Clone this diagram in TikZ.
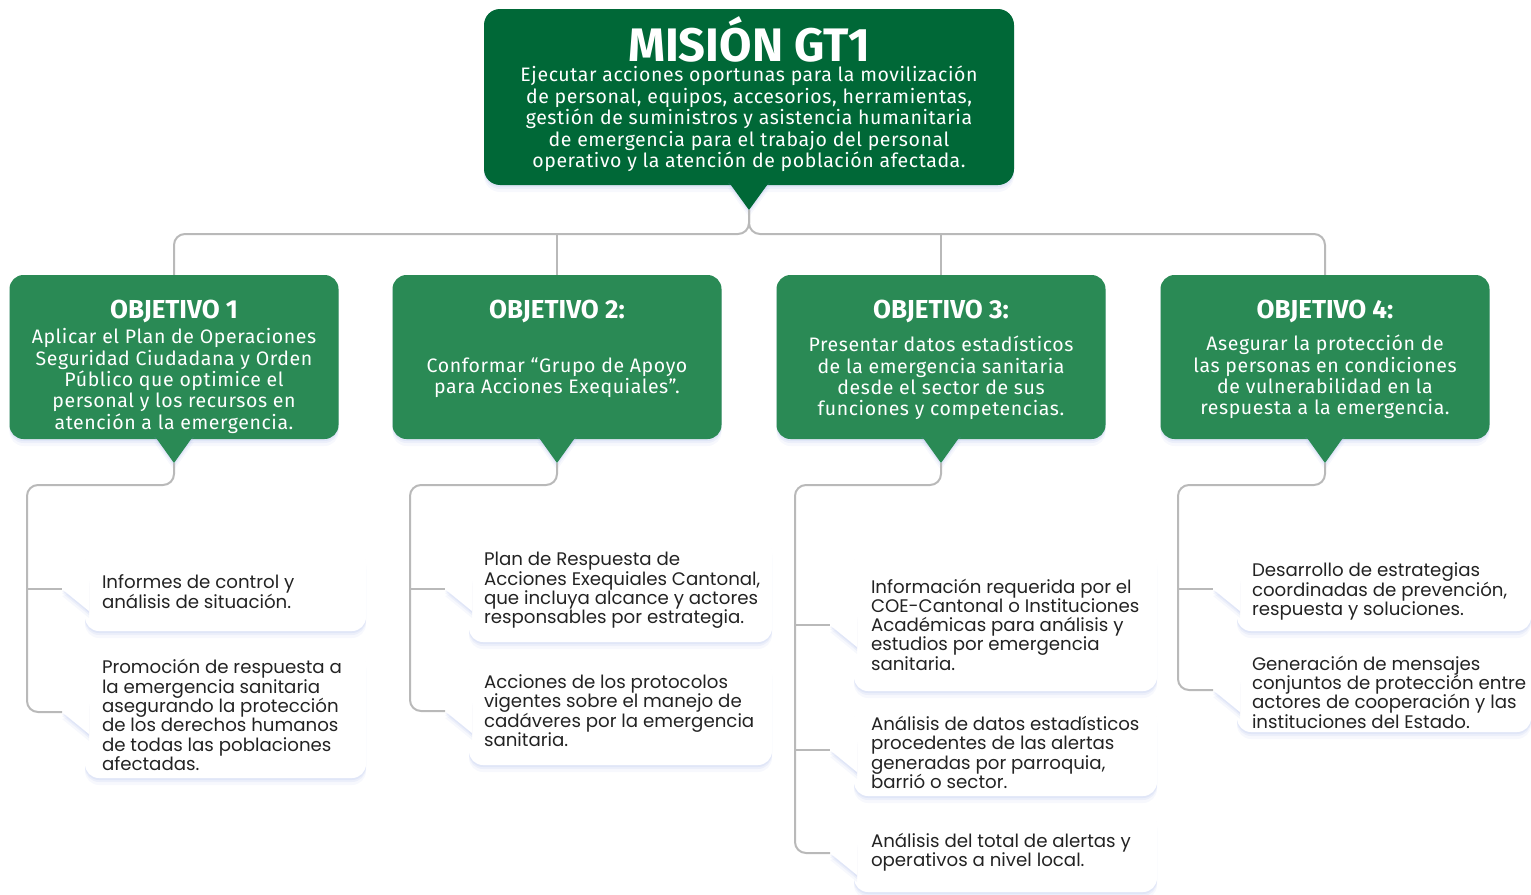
\documentclass[tikz,border=0pt]{standalone}
\usepackage{fontspec}
\setmainfont{Fira Sans}
\newfontfamily\objfont[LetterSpace=3]{Fira Sans}
\newfontfamily\cardfont{Poppins}
\usetikzlibrary{shadows}
\definecolor{misiongreen}{RGB}{0,104,55}
\definecolor{objgreen}{RGB}{42,138,85}
\definecolor{linkgray}{RGB}{185,185,185}
\definecolor{shadeblue}{RGB}{140,160,225}
\definecolor{cardink}{RGB}{35,35,35}
\begin{document}
\begin{tikzpicture}[x=1pt,y=-1pt,
	softshadow/.style={drop shadow={shadow xshift=0pt,shadow yshift=-2pt,fill=shadeblue,opacity=0.12},
		drop shadow={shadow xshift=0pt,shadow yshift=-4pt,fill=shadeblue,opacity=0.10},
		drop shadow={shadow xshift=0pt,shadow yshift=-7pt,fill=shadeblue,opacity=0.07}},
	mision/.style={fill=misiongreen,rounded corners=16pt,minimum width=530pt,minimum height=176pt,softshadow},
	objbox/.style={fill=objgreen,rounded corners=14pt,minimum width=329pt,minimum height=164pt,softshadow},
	objtitle/.style={anchor=base,text=white,inner sep=0pt,font=\bfseries\fontsize{26}{28}\selectfont},
	objtext/.style={text=white,align=center,inner sep=0pt,font=\objfont\fontsize{19.5}{21.4}\selectfont},
	card/.style 2 args={fill=white,rounded corners=14pt,minimum width=#1pt,minimum height=#2pt,softshadow},
	cardtext/.style={anchor=west,text=cardink,align=left,inner sep=0pt,font=\cardfont\fontsize{18.2}{19.3}\selectfont},
	link/.style={draw=linkgray,line width=2pt,rounded corners=11pt}]
	\useasboundingbox (0,0) rectangle (1531,894);

	\coordinate (mtip) at (749,210);
	\coordinate (bus) at (749,234);
	\coordinate (o1tip) at (174,463);
	\coordinate (o2tip) at (557,463);
	\coordinate (o3tip) at (941,463);
	\coordinate (o4tip) at (1325,463);
	\coordinate (abus) at (27,485);
	\coordinate (bbus) at (410,485);
	\coordinate (cbus) at (795,485);
	\coordinate (dbus) at (1178,485);
	\coordinate (a1tip) at (62,589);
	\coordinate (a2tip) at (62,712);
	\coordinate (b1tip) at (445,589);
	\coordinate (b2tip) at (445,711);
	\coordinate (c1tip) at (830,625);
	\coordinate (c2tip) at (830,750);
	\coordinate (c3tip) at (830,853);
	\coordinate (d1tip) at (1213,589);
	\coordinate (d2tip) at (1213,690);

	\node[mision] (m) at (749,97) {};
	\node[anchor=base,text=white,inner sep=0pt,font=\bfseries\fontsize{47}{49}\selectfont] (mt) at (749,61) {MISIÓN GT1};
	\node[objtext] (mb) at (749,119) {Ejecutar acciones oportunas para la movilización\\de personal, equipos, accesorios, herramientas,\\gestión de suministros y asistencia humanitaria\\de emergencia para el trabajo del personal\\operativo y la atención de población afectada.};

	\node[objbox] (o1) at (174,357) {};
	\node[objbox] (o2) at (557,357) {};
	\node[objbox] (o3) at (941,357) {};
	\node[objbox] (o4) at (1325,357) {};
	\node[objtitle] (o1t) at (174,318) {OBJETIVO 1};
	\node[objtitle] (o2t) at (557,318) {OBJETIVO 2:};
	\node[objtitle] (o3t) at (941,318) {OBJETIVO 3:};
	\node[objtitle] (o4t) at (1325,318) {OBJETIVO 4:};
	\node[objtext] (o1b) at (174,381) {Aplicar el Plan de Operaciones\\Seguridad Ciudadana y Orden\\Público que optimice el\\personal y los recursos en\\atención a la emergencia.};
	\node[objtext] (o2b) at (557,378) {Conformar “Grupo de Apoyo\\para Acciones Exequiales”.};
	\node[objtext] (o3b) at (941,378) {Presentar datos estadísticos\\de la emergencia sanitaria\\desde el sector de sus\\funciones y competencias.};
	\node[objtext] (o4b) at (1325,377) {Asegurar la protección de\\las personas en condiciones\\de vulnerabilidad en la\\respuesta a la emergencia.};

	\fill[misiongreen,softshadow] (mtip) -- ++(-21,-29) -- ++(42,0) -- cycle;
	\foreach \t in {o1tip,o2tip,o3tip,o4tip}
		\fill[objgreen,softshadow] (\t) -- ++(-20,-28) -- ++(40,0) -- cycle;

	\node[card={281}{83}] (a1) at (225.5,589.5) {};
	\node[card={281}{128}] (a2) at (225.5,714) {};
	\node[card={303}{105}] (b1) at (620.5,589.5) {};
	\node[card={303}{107}] (b2) at (620.5,711.5) {};
	\node[card={303}{143}] (c1) at (1005.5,619.5) {};
	\node[card={303}{91}] (c2) at (1005.5,750.5) {};
	\node[card={303}{82}] (c3) at (1005.5,851) {};
	\node[card={294}{83}] (d1) at (1384,589.5) {};
	\node[card={294}{82}] (d2) at (1384,691) {};

	\foreach \t in {a1tip,a2tip,b1tip,b2tip,c1tip,c2tip,c3tip,d1tip,d2tip}
		\fill[white,softshadow] (\t) -- ++(27,-10) -- ++(0,32) -- cycle;

	\node[cardtext] (a1t) at ([xshift=17pt,yshift=-2pt]a1.west) {Informes de control y\\análisis de situación.};
	\node[cardtext] (a2t) at ([xshift=17pt,yshift=-1pt]a2.west) {Promoción de respuesta a\\la emergencia sanitaria\\asegurando la protección\\de los derechos humanos\\de todas las poblaciones\\afectadas.};
	\node[cardtext] (b1t) at ([xshift=15pt,yshift=-1pt]b1.west) {Plan de Respuesta de\\Acciones Exequiales Cantonal,\\que incluya alcance y actores\\responsables por estrategia.};
	\node[cardtext] (b2t) at ([xshift=15pt,yshift=1pt]b2.west) {Acciones de los protocolos\\vigentes sobre el manejo de\\cadáveres por la emergencia\\sanitaria.};
	\node[cardtext] (c1t) at ([xshift=17pt,yshift=-5pt]c1.west) {Información requerida por el\\COE-Cantonal o Instituciones\\Académicas para análisis y\\estudios por emergencia\\sanitaria.};
	\node[cardtext] (c2t) at ([xshift=17pt,yshift=-2pt]c2.west) {Análisis de datos estadísticos\\procedentes de las alertas\\generadas por parroquia,\\barrió o sector.};
	\node[cardtext] (c3t) at ([xshift=17pt,yshift=-1pt]c3.west) {Análisis del total de alertas y\\operativos a nivel local.};
	\node[cardtext] (d1t) at ([xshift=15pt,yshift=-2pt]d1.west) {Desarrollo de estrategias\\coordinadas de prevención,\\respuesta y soluciones.};
	\node[cardtext] (d2t) at ([xshift=15pt,yshift=-1pt]d2.west) {Generación de mensajes\\conjuntos de protección entre\\actores de cooperación y las\\instituciones del Estado.};

	\draw[link] (mtip) |- (o1.north |- bus) -- (o1.north);
	\draw[link] (mtip) |- (o4.north |- bus) -- (o4.north);
	\draw[link] (o2.north) -- (o2.north |- bus);
	\draw[link] (o3.north) -- (o3.north |- bus);

	\draw[link] (o1tip) |- (abus) |- (a2tip);
	\draw[link] (abus |- a1tip) -- (a1tip);
	\draw[link] (o2tip) |- (bbus) |- (b2tip);
	\draw[link] (bbus |- b1tip) -- (b1tip);
	\draw[link] (o3tip) |- (cbus) |- (c3tip);
	\draw[link] (cbus |- c1tip) -- (c1tip);
	\draw[link] (cbus |- c2tip) -- (c2tip);
	\draw[link] (o4tip) |- (dbus) |- (d2tip);
	\draw[link] (dbus |- d1tip) -- (d1tip);
\end{tikzpicture}
\end{document}
